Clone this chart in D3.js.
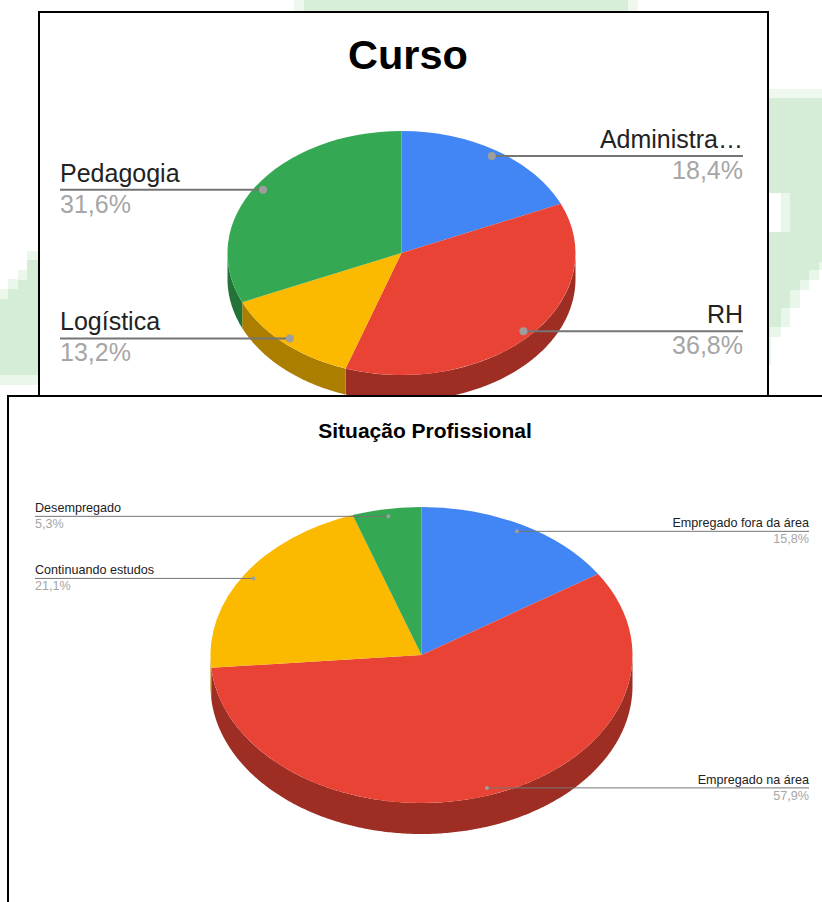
<!DOCTYPE html>
<html>
<head>
<meta charset="utf-8">
<script src="https://cdn.jsdelivr.net/npm/d3@7"></script>
<style>
  html, body { margin: 0; padding: 0; background: #fff; }
  svg { display: block; font-family: "Liberation Sans", Arial, sans-serif; }
</style>
</head>
<body>
<div id="chart"></div>
<script>
const sliceColors = ['#4285f4', '#e94335', '#fbb900', '#34a853'];

const cursoLabels = ['Administra…', 'RH', 'Logística', 'Pedagogia'];
const cursoValues = [18.4, 36.8, 13.2, 31.6];

const situacaoLabels = ['Empregado fora da área', 'Empregado na área', 'Continuando estudos', 'Desempregado'];
const situacaoValues = [15.8, 57.9, 21.1, 5.3];

const svg = d3.select('#chart').append('svg').attr('width', 822).attr('height', 902);

// pixelated green picture sitting behind the two screenshots
const backdrop = svg.append('g');
[
  ['#eef8ee', 'M294,0H638V12H294Z'],
  ['#d8eed9', 'M304,0H628V12H304Z'],
  ['#eef8ee', 'M768,89H822V98H768Z'],
  ['#d5ecd7', 'M768,98H822V262H819V270H809V280H800V290H790V308H781V327H770V337H768Z'],
  ['#e9f6ea', 'M819,262H822V270H819ZM809,270H819V280H809ZM800,280H809V290H800ZM790,290H800V308H790ZM781,308H790V327H781ZM770,327H781V337H770ZM768,337H771V365H768Z'],
  ['#fff', 'M769,193H781V232H769Z'],
  ['#e9f6ea', 'M781,193H790V232H781Z'],
  ['#eaf7ea', 'M27,251H38V260H27ZM18,270H27V280H18ZM8,279H18V289H8ZM0,289H8V299H0ZM0,375H38V385H0Z'],
  ['#d5ecd7', 'M27,260H38V375H0V299H8V289H18V280H27Z']
].forEach(([fill, d]) => backdrop.append('path').attr('d', d).attr('fill', fill));

function drawPie(opts) {
  const { box, title, labels, values, cx, cy, rx, ry, depth, leftX, rightX } = opts;

  const panel = svg.append('g');
  panel.append('rect')
    .attr('x', box.x).attr('y', box.y).attr('width', box.w).attr('height', box.h)
    .attr('fill', '#fff').attr('stroke', '#000').attr('stroke-width', 2);

  panel.append('text')
    .attr('x', opts.titleX).attr('y', opts.titleY).attr('text-anchor', 'middle')
    .attr('font-size', opts.titleSize).attr('font-weight', 'bold').attr('fill', '#000')
    .text(title);

  const slices = d3.pie().sort(null)(values);
  const px = a => rx * Math.sin(a);
  const py = a => -ry * Math.cos(a);

  const pie = panel.append('g').attr('transform', `translate(${cx},${cy})`);

  // only the front half of the rim shows
  const rim = d3.line();
  slices.forEach((s, i) => {
    const a0 = Math.max(s.startAngle, Math.PI / 2);
    const a1 = Math.min(s.endAngle, Math.PI * 1.5);
    if (a1 <= a0) return;
    const angles = d3.range(a0, a1, 0.01).concat(a1);
    const pts = angles.map(a => [px(a), py(a)])
      .concat(angles.slice().reverse().map(a => [px(a), py(a) + depth]));
    const c = d3.rgb(sliceColors[i]);
    pie.append('path')
      .attr('d', rim(pts) + 'Z')
      .attr('fill', d3.rgb(c.r * 0.68, c.g * 0.68, c.b * 0.68).formatHex());
  });

  const arc = d3.arc().innerRadius(0).outerRadius(rx);
  pie.append('g').attr('transform', `scale(1,${ry / rx})`)
    .selectAll('path').data(slices).enter().append('path')
    .attr('d', arc)
    .attr('fill', (d, i) => sliceColors[i]);

  // leader lines and labels
  slices.forEach((s, i) => {
    const mid = (s.startAngle + s.endAngle) / 2;
    const dx = cx + px(mid) * 0.95;
    const dy = cy + py(mid) * 0.95;
    const onRight = mid < Math.PI;
    const endX = onRight ? rightX : leftX;
    const anchor = onRight ? 'end' : 'start';

    panel.append('line')
      .attr('x1', dx).attr('y1', dy).attr('x2', endX).attr('y2', dy)
      .attr('stroke', '#757575').attr('stroke-width', opts.lineWidth);
    panel.append('circle')
      .attr('cx', dx).attr('cy', dy).attr('r', opts.dotR).attr('fill', '#9e9e9e');

    panel.append('text')
      .attr('x', endX).attr('y', dy - opts.labelGap).attr('text-anchor', anchor)
      .attr('font-size', opts.fontSize).attr('fill', '#222')
      .text(labels[i]);
    panel.append('text')
      .attr('x', endX).attr('y', dy + opts.pctGap).attr('text-anchor', anchor)
      .attr('font-size', opts.fontSize).attr('fill', '#a6a6a6')
      .text(values[i].toFixed(1).replace('.', ',') + '%');
  });
}

drawPie({
  box: { x: 39, y: 12, w: 729, h: 400 },
  title: 'Curso', titleX: 408, titleY: 69, titleSize: 41.5,
  labels: cursoLabels, values: cursoValues,
  cx: 401.5, cy: 253, rx: 174, ry: 122, depth: 26,
  leftX: 60, rightX: 743, fontSize: 25, labelGap: 8, pctGap: 23, lineWidth: 2, dotR: 4
});

drawPie({
  box: { x: 8, y: 396, w: 830, h: 520 },
  title: 'Situação Profissional', titleX: 425, titleY: 438, titleSize: 21,
  labels: situacaoLabels, values: situacaoValues,
  cx: 421.5, cy: 655, rx: 211, ry: 148, depth: 31,
  leftX: 35, rightX: 809, fontSize: 12.6, labelGap: 4, pctGap: 12, lineWidth: 1, dotR: 2
});
</script>
</body>
</html>
